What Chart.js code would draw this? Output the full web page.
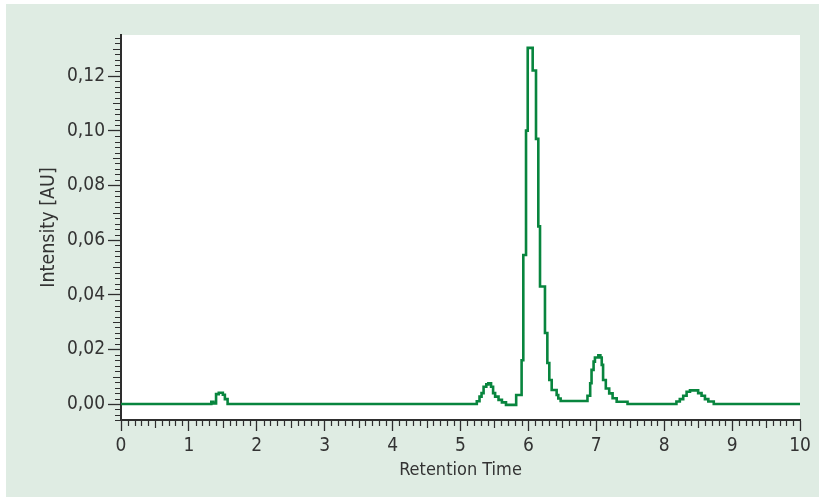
<!DOCTYPE html>
<html>
<head>
<meta charset="utf-8">
<script src="https://cdn.jsdelivr.net/npm/chart.js@4.4.1/dist/chart.umd.min.js"></script>
<style>
  html, body { margin: 0; padding: 0; background: #ffffff; }
  #box { position: absolute; left: 6px; top: 4px; width: 813px; height: 493px; background: #dfece3; }
</style>
</head>
<body>
<div id="box"><canvas id="c"></canvas></div>
<script>
// Retention time (min) at which the detector signal steps to the given intensity
const times = [0, 1.33, 1.36, 1.40, 1.44, 1.50, 1.53, 1.57,
  5.24, 5.28, 5.31, 5.34, 5.38, 5.41, 5.45, 5.48, 5.51, 5.56, 5.61, 5.67, 5.82,
  5.90, 5.925, 5.965, 5.99, 6.063, 6.112, 6.146, 6.171, 6.244, 6.279, 6.308, 6.343, 6.416, 6.44, 6.475,
  6.87, 6.91, 6.93, 6.96, 6.98, 7.03, 7.06, 7.08, 7.10, 7.14, 7.19, 7.24, 7.30, 7.46,
  8.18, 8.23, 8.28, 8.33, 8.38, 8.50, 8.55, 8.60, 8.65, 8.73, 10];
const intensity = [0, 0.0008, 0.0002, 0.0036, 0.0041, 0.0034, 0.0018, 0,
  0.001, 0.0027, 0.004, 0.0063, 0.0072, 0.0076, 0.0063, 0.004, 0.0027, 0.0015, 0.0006, -0.0003, 0.0033,
  0.016, 0.0545, 0.1, 0.1303, 0.122, 0.097, 0.065, 0.043, 0.026, 0.015, 0.0088, 0.0051, 0.0033, 0.002, 0.0011,
  0.003, 0.0076, 0.0125, 0.0155, 0.017, 0.0178, 0.017, 0.0143, 0.0088, 0.0057, 0.0039, 0.0021, 0.0008, 0,
  0.0009, 0.0018, 0.003, 0.0045, 0.005, 0.004, 0.003, 0.0018, 0.0009, 0, 0];
const xTickValues = [0, 1, 2, 3, 4, 5, 6, 7, 8, 9, 10];
const yTickValues = [0, 0.02, 0.04, 0.06, 0.08, 0.10, 0.12];
const xTitle = 'Retention Time';
const yTitle = 'Intensity [AU]';

const FONT = "'Liberation Sans Narrow', 'DejaVu Sans Condensed', 'Roboto', sans-serif";
const AXIS = '#2e2e2e';
const LINE = '#08853e';

const plotBg = {
  id: 'plotBg',
  beforeDraw(chart) {
    const a = chart.chartArea, ctx = chart.ctx;
    ctx.save();
    ctx.fillStyle = '#ffffff';
    ctx.fillRect(a.left, a.top, a.right - a.left, a.bottom - a.top);
    ctx.restore();
  }
};

const minorTicks = {
  id: 'minorTicks',
  afterDraw(chart) {
    const ctx = chart.ctx, xs = chart.scales.x, ys = chart.scales.y;
    ctx.save();
    ctx.strokeStyle = AXIS;
    ctx.lineWidth = 1.2;
    ctx.beginPath();
    for (let i = 1; i < 100; i++) {
      if (i % 10 === 0) continue;
      const px = Math.round(xs.getPixelForValue(i / 10)) + 0.5;
      const len = (i % 5 === 0) ? 8 : 6;
      ctx.moveTo(px, xs.top);
      ctx.lineTo(px, xs.top + len);
    }
    for (let k = -3; k <= 67; k++) {
      if (k % 10 === 0) continue;
      const py = Math.round(ys.getPixelForValue(k * 0.002)) + 0.5;
      const len = (Math.abs(k) % 5 === 0) ? 8 : 6;
      ctx.moveTo(ys.right, py);
      ctx.lineTo(ys.right - len, py);
    }
    ctx.stroke();
    ctx.restore();
  }
};

new Chart(document.getElementById('c'), {
  type: 'line',
  data: {
    datasets: [{
      data: times.map((t, i) => ({ x: t, y: intensity[i] })),
      borderColor: LINE,
      borderWidth: 2.6,
      pointRadius: 0,
      stepped: true,
      fill: false,
      tension: 0
    }]
  },
  options: {
    responsive: true,
    maintainAspectRatio: false,
    animation: false,
    events: [],
    layout: { padding: { left: 0, right: 19, top: 31, bottom: 0 } },
    plugins: { legend: { display: false }, tooltip: { enabled: false } },
    scales: {
      x: {
        type: 'linear',
        min: 0, max: 10,
        afterFit(s) { s.height = 77; },
        afterBuildTicks(s) { s.ticks = xTickValues.map(v => ({ value: v })); },
        border: { display: true, color: AXIS, width: 2 },
        grid: { drawOnChartArea: false, drawTicks: true, tickLength: 11, tickColor: AXIS, tickWidth: 1.3 },
        ticks: { color: '#333333', padding: 4, maxRotation: 0, font: { family: FONT, size: 19 }, callback: v => String(v) },
        title: { display: true, text: xTitle, color: '#333333', font: { family: FONT, size: 18 }, padding: { top: 0, bottom: 16 } }
      },
      y: {
        type: 'linear',
        min: -0.00585, max: 0.135,
        afterFit(s) { s.width = 115; },
        afterBuildTicks(s) { s.ticks = yTickValues.map(v => ({ value: v })); },
        border: { display: true, color: AXIS, width: 2 },
        grid: { drawOnChartArea: false, drawTicks: true, tickLength: 13, tickColor: AXIS, tickWidth: 1.3 },
        ticks: { color: '#333333', padding: 3, font: { family: FONT, size: 19 }, callback: v => v.toFixed(2).replace('.', ',') },
        title: { display: true, text: yTitle, color: '#333333', font: { family: FONT, size: 19.5 }, padding: { top: 31, bottom: 0 } }
      }
    }
  },
  plugins: [plotBg, minorTicks]
});
</script>
</body>
</html>
